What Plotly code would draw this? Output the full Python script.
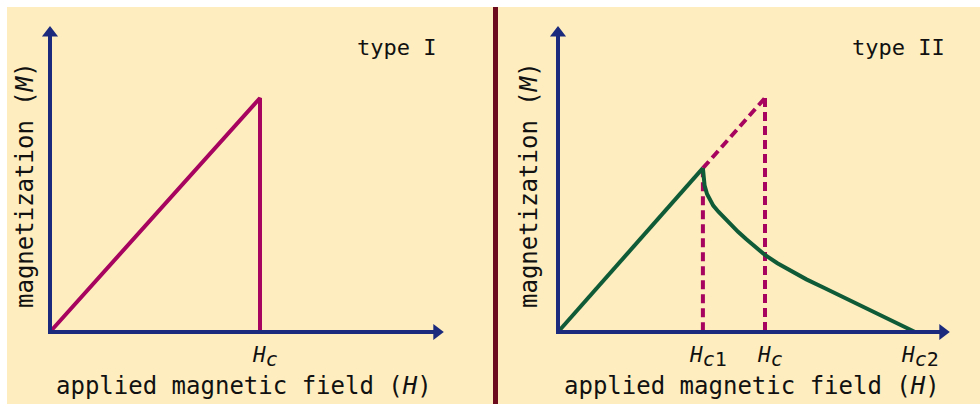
import plotly.graph_objects as go

# ---- data -------------------------------------------------------------
# Type I: magnetization grows linearly with H up to Hc, then drops to zero.
t1_H = [0.0, 1.0, 1.0]
t1_M = [0.0, 1.0, 0.0]

# Type II critical fields (in units of Hc)
Hc1, Hc, Hc2 = 0.70, 1.0, 1.725

# Type II: Meissner (linear) part up to Hc1
t2_lin_H = [0.0, Hc1]
t2_lin_M = [0.0, 0.70]
# Mixed state: magnetization falls from Hc1 to zero at Hc2
t2_mix_H = [0.700, 0.702, 0.708, 0.720, 0.735, 0.750, 0.775, 0.800, 0.835, 0.870,
            0.910, 0.950, 1.000, 1.060, 1.121, 1.200, 1.282, 1.360, 1.443, 1.520,
            1.604, 1.665, 1.725]
t2_mix_M = [0.700, 0.665, 0.627, 0.590, 0.563, 0.540, 0.514, 0.490, 0.459, 0.428,
            0.396, 0.366, 0.329, 0.294, 0.262, 0.225, 0.190, 0.157, 0.122, 0.090,
            0.055, 0.028, 0.0]
# Extrapolated type-I behaviour (dashed)
t2_ext_H = [Hc1, Hc]
t2_ext_M = [0.70, 1.0]

SUB = '<sub><span style="font-size:20px"><i>c</i>{}</span></sub>'
tick_vals_I = [Hc]
tick_text_I = ["<i>H</i>" + SUB.format("")]
tick_vals_II = [Hc1, Hc, Hc2]
tick_text_II = ["<i>H</i>" + SUB.format("1"), "<i>H</i>" + SUB.format(""),
                "<i>H</i>" + SUB.format("2")]

panel_titles = ["type I", "type II"]
x_title = "applied magnetic field (<i>H</i>)"
y_title = "magnetization (<i>M</i>)"

# ---- style ------------------------------------------------------------
W, Hpx = 980, 404
CREAM = "#FEEEBF"
NAVY = "#1B2A7C"
PINK = "#A6045F"
GREEN = "#0F5A37"
MAROON = "#6C0A1E"
FONT = "DejaVu Sans Mono"
INK = "#111111"

# axis extents (arrow tips) in data units
X_TIP_I, X_TIP_II, Y_TIP = 1.867, 1.884, 1.303

# per-panel ranges so origin sits at the same place in each panel
x1_range = [-50 / 210, 440 / 210]
x2_range = [-68 / 207, 422 / 207]
y_range = [-72 / 234, 332 / 234]

fig = go.Figure()

def axes_traces(xa, ya, xtip):
    fig.add_trace(go.Scatter(x=[0, 0, xtip - 0.03], y=[Y_TIP - 0.03, 0, 0], mode="lines",
                             line=dict(color=NAVY, width=4), xaxis=xa, yaxis=ya,
                             hoverinfo="skip"))
    fig.add_trace(go.Scatter(x=[xtip - 0.025], y=[0], mode="markers",
                             marker=dict(symbol="triangle-right", size=14, color=NAVY),
                             xaxis=xa, yaxis=ya, cliponaxis=False, hoverinfo="skip"))
    fig.add_trace(go.Scatter(x=[0], y=[Y_TIP - 0.025], mode="markers",
                             marker=dict(symbol="triangle-up", size=14, color=NAVY),
                             xaxis=xa, yaxis=ya, cliponaxis=False, hoverinfo="skip"))

# type I
fig.add_trace(go.Scatter(x=t1_H, y=t1_M, mode="lines", line=dict(color=PINK, width=4),
                         xaxis="x", yaxis="y"))
axes_traces("x", "y", X_TIP_I)

# type II
fig.add_trace(go.Scatter(x=t2_ext_H, y=t2_ext_M, mode="lines",
                         line=dict(color=PINK, width=4, dash="9px,5px"),
                         xaxis="x2", yaxis="y2"))
for hv, mv in [(Hc1, 0.70), (Hc, 1.0)]:
    fig.add_trace(go.Scatter(x=[hv, hv], y=[mv, 0], mode="lines",
                             line=dict(color=PINK, width=4, dash="9px,5px"),
                             xaxis="x2", yaxis="y2"))
fig.add_trace(go.Scatter(x=t2_lin_H, y=t2_lin_M, mode="lines",
                         line=dict(color=GREEN, width=4), xaxis="x2", yaxis="y2"))
fig.add_trace(go.Scatter(x=t2_mix_H, y=t2_mix_M, mode="lines",
                         line=dict(color=GREEN, width=4),
                         xaxis="x2", yaxis="y2"))
axes_traces("x2", "y2", X_TIP_II)

ann = []
for xr, yr, vals, texts in [("x", "y", tick_vals_I, tick_text_I),
                            ("x2", "y2", tick_vals_II, tick_text_II)]:
    for v, t in zip(vals, texts):
        ann.append(dict(x=v, y=0, xref=xr, yref=yr, text=t, showarrow=False,
                        xanchor="center", yanchor="middle", yshift=-25, xshift=5,
                        font=dict(family=FONT, size=21, color=INK)))

# panel titles, axis titles (paper px positions)
def px(xp, yp):
    return xp / W, 1 - yp / Hpx

def label(cx, cy, txt, size, angle=0):
    x, y = px(cx, cy)
    ann.append(dict(x=x, y=y, xref="paper", yref="paper", text=txt, showarrow=False,
                    xanchor="center", yanchor="middle", textangle=angle,
                    font=dict(family=FONT, size=size, color=INK)))

for cx, txt in zip([396, 898], panel_titles):
    label(cx, 47, txt, 22)
for cx in (244, 752):
    label(cx, 386, x_title, 24)
for cx in (25, 529):
    label(cx, 185, y_title, 24, -90)

shapes = [
    dict(type="rect", xref="paper", yref="paper", x0=7 / W, x1=1, y0=0, y1=1 - 7 / Hpx,
         fillcolor=CREAM, line=dict(width=0), layer="below"),
    dict(type="rect", xref="paper", yref="paper", x0=493 / W, x1=498 / W, y0=0, y1=1 - 7 / Hpx,
         fillcolor=MAROON, line=dict(width=0), layer="below"),
]

ax_common = dict(visible=False, fixedrange=True)
fig.update_layout(
    width=W, height=Hpx, margin=dict(l=0, r=0, t=0, b=0),
    paper_bgcolor="white", plot_bgcolor="rgba(0,0,0,0)", showlegend=False,
    xaxis=dict(domain=[0, 0.5], range=x1_range, **ax_common),
    yaxis=dict(domain=[0, 1], range=y_range, **ax_common),
    xaxis2=dict(domain=[0.5, 1], range=x2_range, **ax_common),
    yaxis2=dict(domain=[0, 1], range=y_range, anchor="x2", **ax_common),
    annotations=ann, shapes=shapes,
)
fig.write_html("out.html")
